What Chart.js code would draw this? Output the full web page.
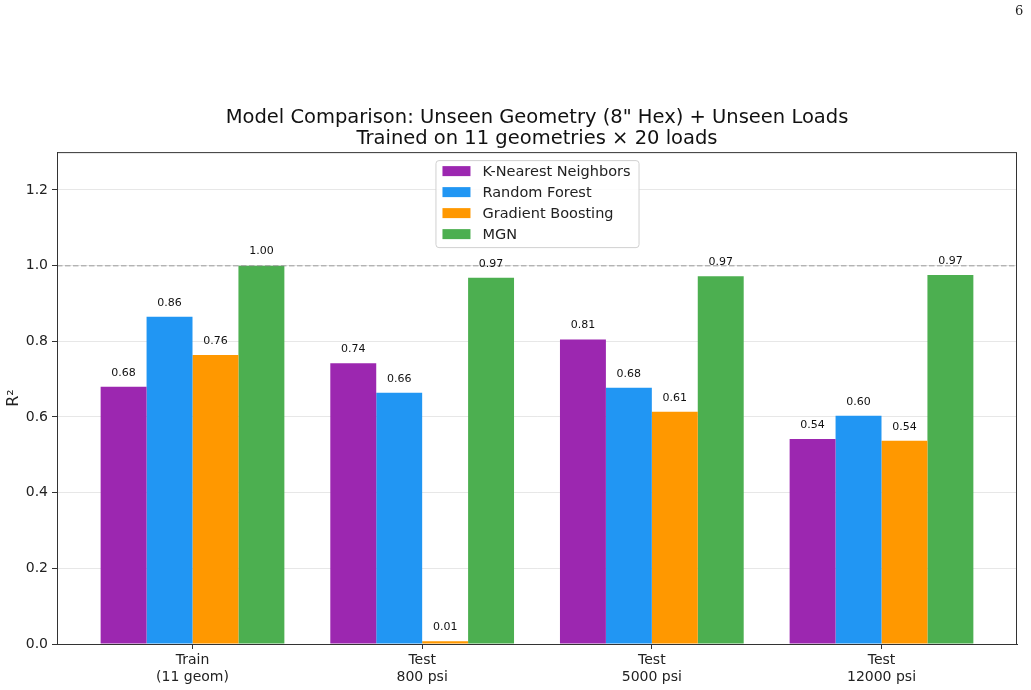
<!DOCTYPE html>
<html>
<head>
<meta charset="utf-8">
<script src="https://cdn.jsdelivr.net/npm/chart.js@4/dist/chart.umd.min.js"></script>
<style>
  html, body { margin: 0; padding: 0; background: #fff; }
  #wrap { position: relative; width: 1031px; height: 690px; }
  #pageNum { position: absolute; left: 1015px; top: 3px; font: 13px "DejaVu Serif", "Liberation Serif", serif; color: #222; }
</style>
</head>
<body>
<div id="wrap">
  <canvas id="r2Chart" width="1031" height="690"></canvas>
  <div id="pageNum">6</div>
</div>
<script>
// categories (multi-line tick labels)
const categories = [["Train", "(11 geom)"], ["Test", "800 psi"], ["Test", "5000 psi"], ["Test", "12000 psi"]];
const models = ["K-Nearest Neighbors", "Random Forest", "Gradient Boosting", "MGN"];
const modelColors = ["#9C27B0", "#2196F3", "#FF9800", "#4CAF50"];

// R² per model, one value per category
const knnScores = [0.680, 0.742, 0.805, 0.542];
const rfScores  = [0.865, 0.664, 0.677, 0.603];
const gbScores  = [0.764, 0.007, 0.614, 0.537];
const mgnScores = [1.000, 0.968, 0.972, 0.975];

const yTicks = [0.0, 0.2, 0.4, 0.6, 0.8, 1.0, 1.2];
const refLine = 1.0;

const FONT = "'DejaVu Sans', 'Liberation Sans', sans-serif";
Chart.defaults.font.family = FONT;
Chart.defaults.color = "#222";

const allScores = [knnScores, rfScores, gbScores, mgnScores];
const datasets = models.map((name, i) => ({
    label: name,
    data: allScores[i].map((v, j) => ({ x: j, y: v })),
    backgroundColor: modelColors[i],
    borderWidth: 0,
    categoryPercentage: 0.8,
    barPercentage: 1.0
}));

// dashed reference line at R² = 1
const refLinePlugin = {
    id: 'refLine',
    afterDatasetsDraw(chart) {
        const { ctx, chartArea, scales } = chart;
        const y = scales.y.getPixelForValue(refLine);
        ctx.save();
        ctx.strokeStyle = "rgba(128,128,128,0.5)";
        ctx.lineWidth = 1.5;
        ctx.setLineDash([5.5, 2.5]);
        ctx.beginPath();
        ctx.moveTo(chartArea.left, y);
        ctx.lineTo(chartArea.right, y);
        ctx.stroke();
        ctx.restore();
    }
};

// value labels above each bar
const valueLabels = {
    id: 'valueLabels',
    afterDatasetsDraw(chart) {
        const { ctx } = chart;
        ctx.save();
        ctx.font = "11px " + FONT;
        ctx.fillStyle = "#111";
        ctx.textAlign = "center";
        ctx.textBaseline = "middle";
        chart.data.datasets.forEach((ds, i) => {
            chart.getDatasetMeta(i).data.forEach((bar, j) => {
                ctx.fillText(ds.data[j].y.toFixed(2), bar.x, bar.y - 14);
            });
        });
        ctx.restore();
    }
};

// frame around plot + boxed legend inside plot (upper center)
const frameAndLegend = {
    id: 'frameAndLegend',
    afterDraw(chart) {
        const { ctx, chartArea } = chart;
        ctx.save();
        ctx.strokeStyle = "#333";
        ctx.lineWidth = 1;
        ctx.strokeRect(chartArea.left + 0.5, chartArea.top + 0.5,
            chartArea.right - chartArea.left - 1, chartArea.bottom - chartArea.top);

        ctx.font = "14.5px " + FONT;
        const labels = chart.data.datasets.map(d => d.label);
        const textW = Math.max(...labels.map(l => ctx.measureText(l).width));
        const w = 7 + 28 + 12 + textW + 8;
        const rowH = 21;
        const h = labels.length * rowH + 3;
        const x0 = (chartArea.left + chartArea.right) / 2 - w / 2;
        const y0 = chartArea.top + 8;
        ctx.fillStyle = "rgba(255,255,255,0.85)";
        ctx.strokeStyle = "#d0d0d0";
        ctx.beginPath();
        ctx.roundRect(x0 + 0.5, y0 + 0.5, w, h, 3);
        ctx.fill();
        ctx.stroke();
        ctx.textBaseline = "middle";
        ctx.textAlign = "left";
        chart.data.datasets.forEach((ds, i) => {
            const cy = y0 + 11 + i * rowH;
            ctx.fillStyle = ds.backgroundColor;
            ctx.fillRect(x0 + 7, cy - 5, 28, 10);
            ctx.fillStyle = "#222";
            ctx.fillText(ds.label, x0 + 47, cy + 1);
        });
        ctx.restore();
    }
};

new Chart(document.getElementById('r2Chart').getContext('2d'), {
    type: 'bar',
    data: { datasets },
    options: {
        responsive: false,
        animation: false,
        layout: { padding: { left: 0, right: 14, top: 0, bottom: 0 } },
        plugins: {
            legend: { display: false },
            tooltip: { enabled: false },
            title: {
                display: true,
                fullSize: false,
                text: ["Model Comparison: Unseen Geometry (8\" Hex) + Unseen Loads", "Trained on 11 geometries \u00d7 20 loads"],
                font: { size: 19.5, weight: 'normal', lineHeight: 1.08 },
                color: "#111",
                padding: { top: 107, bottom: 3 }
            }
        },
        scales: {
            x: {
                type: 'linear',
                min: -0.59,
                max: 3.59,
                offset: false,
                afterBuildTicks(scale) {
                    scale.ticks = categories.map((c, i) => ({ value: i }));
                },
                afterFit(scale) { scale.height = 46; },
                ticks: {
                    callback: (v) => categories[v],
                    font: { size: 14 },
                    color: "#222",
                    padding: 3,
                    maxRotation: 0,
                    autoSkip: false
                },
                grid: { offset: false, drawOnChartArea: false, drawTicks: true, tickLength: 5, tickColor: "#333" },
                border: { color: "#333" }
            },
            y: {
                min: 0,
                max: 1.3,
                z: 1,
                afterBuildTicks(scale) {
                    scale.ticks = yTicks.map(v => ({ value: v }));
                },
                afterFit(scale) { scale.width = 57; },
                ticks: {
                    callback: (v) => v.toFixed(1),
                    font: { size: 14 },
                    color: "#222",
                    padding: 4
                },
                grid: { color: "rgba(176,176,176,0.3)", tickColor: "#333", tickLength: 5 },
                border: { color: "#333" },
                title: {
                    display: true,
                    text: "R\u00b2",
                    font: { size: 16 },
                    color: "#222",
                    padding: { top: 4, bottom: 0 }
                }
            }
        }
    },
    plugins: [refLinePlugin, valueLabels, frameAndLegend]
});
</script>
</body>
</html>
